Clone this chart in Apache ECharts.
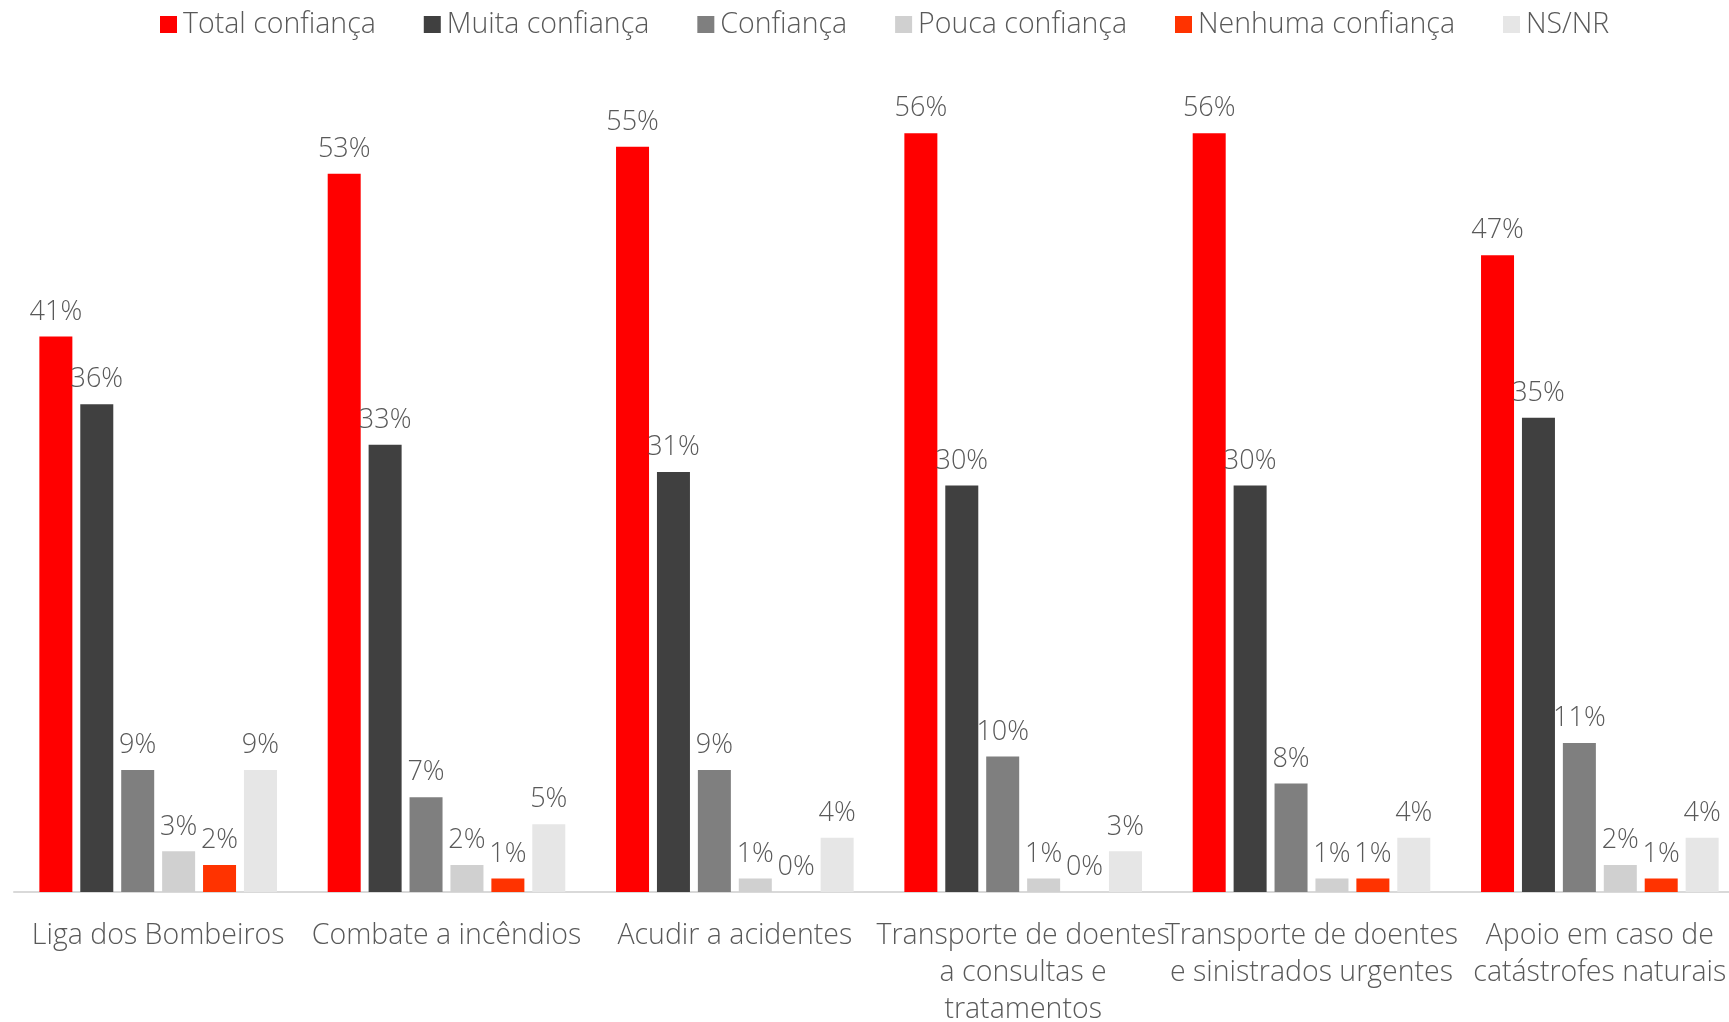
<!DOCTYPE html>
<html>
<head>
<meta charset="utf-8">
<script src="https://cdn.jsdelivr.net/npm/echarts@6/dist/echarts.min.js"></script>
<style>
html,body{margin:0;padding:0;background:#fff;}
#chart{width:1729px;height:1022px;}
</style>
</head>
<body>
<div id="chart"></div>
<script>
const categories = [
  "Liga dos Bombeiros",
  "Combate a incêndios",
  "Acudir a acidentes",
  "Transporte de doentes\na consultas e\ntratamentos",
  "Transporte de doentes\ne sinistrados urgentes",
  "Apoio em caso de\ncatástrofes naturais"
];
const seriesNames = ["Total confiança","Muita confiança","Confiança","Pouca confiança","Nenhuma confiança","NS/NR"];
const totalConfianca = [41, 53, 55, 56, 56, 47];
const muitaConfianca = [36, 33, 31, 30, 30, 35];
const confianca      = [9, 7, 9, 10, 8, 11];
const poucaConfianca = [3, 2, 1, 1, 1, 2];
const nenhumaConfianca = [2, 1, 0, 0, 1, 1];
const nsnr           = [9, 5, 4, 3, 4, 4];
const colors = ["#FF0000","#404040","#7F7F7F","#D0D0D0","#FF3300","#E6E6E6"];
const allData = [totalConfianca, muitaConfianca, confianca, poucaConfianca, nenhumaConfianca, nsnr];

const FONT = '"Open Sans", sans-serif';
const chart = echarts.init(document.getElementById('chart'), null, {renderer:'canvas'});
chart.setOption({
  animation:false,
  backgroundColor:'#fff',
  color: colors,
  legend:{
    top:5, left:155,
    itemWidth:17, itemHeight:17, itemGap:48,
    icon:'rect',
    textStyle:{fontFamily:FONT, fontWeight:300, fontSize:28.5, color:'#595959', padding:[0,0,0,1]},
    data: seriesNames
  },
  grid:{left:14, top:79, width:1730, bottom:130, containLabel:false, outerBoundsMode:'none'},
  xAxis:{
    type:'category', data:categories,
    axisLine:{show:true, lineStyle:{color:'#D9D9D9', width:2}},
    axisTick:{show:false},
    axisLabel:{interval:0, margin:25, fontFamily:FONT, fontWeight:300, fontSize:28.5, lineHeight:37, color:'#595959', hideOverlap:false}
  },
  yAxis:{type:'value', min:0, max:60, show:false, splitLine:{show:false}},
  series: seriesNames.map((name,i)=>({
    name, type:'bar', data: allData[i],
    barWidth:33, barGap:'24%',
    itemStyle:{color:colors[i]},
    label:{show:true, position:'top', distance:11, formatter:'{c}%', fontFamily:FONT, fontWeight:300, fontSize:27, color:'#595959'}
  }))
});
</script>
</body>
</html>
